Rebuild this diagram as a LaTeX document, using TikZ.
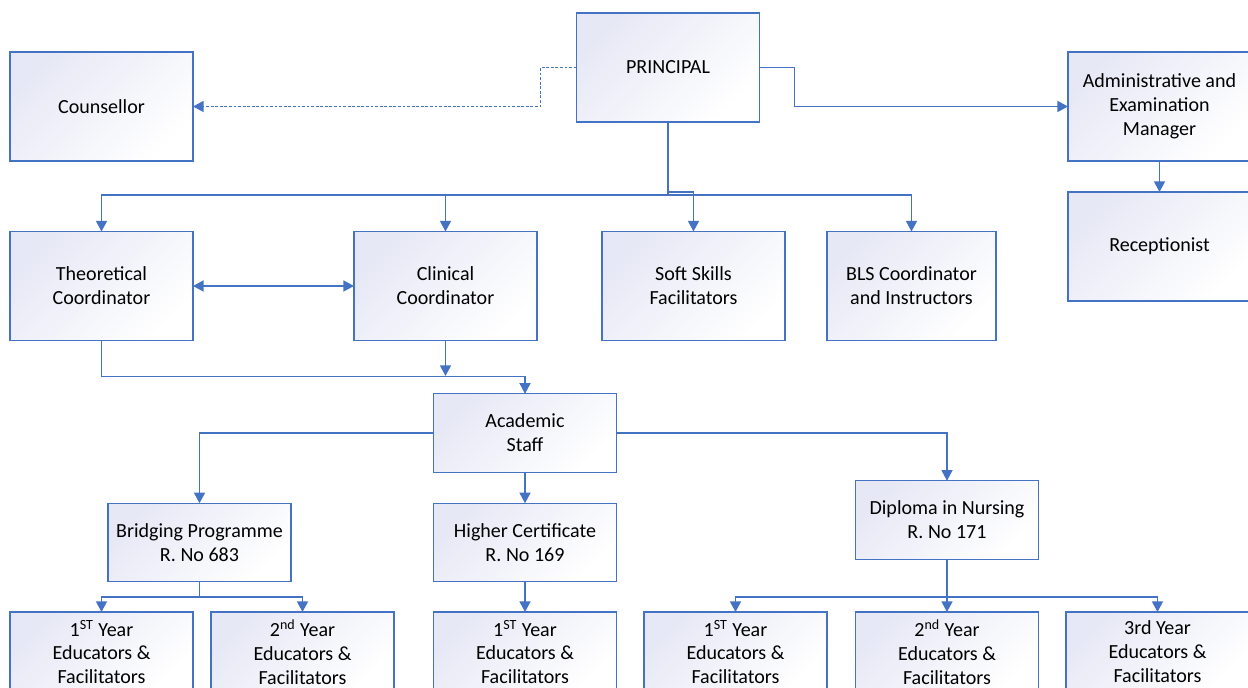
\documentclass[tikz,border=0pt]{standalone}
\usepackage{fontspec}
\setmainfont{Carlito}
\usepackage{tikz}
\usetikzlibrary{arrows.meta}
\usepackage{xcolor}

\definecolor{orgblue}{RGB}{68,114,196}
\definecolor{lavender}{RGB}{230,232,245}

\begin{document}
\begin{tikzpicture}[x=0.02cm, y=-0.02cm, >={Triangle[length=6pt,width=6.2pt]},
  box/.style={draw=orgblue, line width=0.75pt, top color=lavender, bottom color=white,
    shading angle=45, minimum width=3.66cm, minimum height=2.18cm,
    inner sep=0pt, outer sep=0pt, align=center,
    font=\fontsize{11.4pt}{13.6pt}\selectfont},
  flatbox/.style={box, minimum height=1.57cm},
  yearbox/.style={box, minimum height=1.6cm},
  link/.style={draw=orgblue, line width=0.9pt, ->},
  dotlink/.style={link, dash pattern=on 1.6pt off 1pt}]

\useasboundingbox (0,0) rectangle (1248,688);
\clip (0,0) rectangle (1248,688);

%top level
\node[box] (princ) at (668,67.5) {PRINCIPAL};
\node[box] (couns) at (101.5,106.5) {Counsellor};
\node[box] (admin) at (1159.5,106.5) {Administrative and\\Examination\\Manager};
\node[box] (recep) at (1159.5,246.5) {Receptionist};

%coordinators
\node[box] (theo) at (101.5,286) {Theoretical\\Coordinator};
\node[box] (clin) at (445.5,286) {Clinical\\Coordinator};
\node[box] (soft) at (693.5,286) {Soft Skills\\Facilitators};
\node[box, minimum width=3.38cm] (bls) at (911.5,286) {BLS Coordinator\\and Instructors};

\node[flatbox] (acad) at (525,433) {Academic\\Staff};

%programmes
\node[flatbox] (bridge) at (199.5,542.5) {Bridging Programme\\R. No 683};
\node[flatbox] (higher) at (525,542.5) {Higher Certificate\\R. No 169};
\node[flatbox] (dip) at (947,520) {Diploma in Nursing\\R. No 171};

%years
\node[yearbox] (bone) at (101.5,652) {1\textsuperscript{ST} Year\\Educators \&\\Facilitators};
\node[yearbox] (btwo) at (302.5,652) {2\textsuperscript{nd} Year\\Educators \&\\Facilitators};
\node[yearbox] (hone) at (525,652) {1\textsuperscript{ST} Year\\Educators \&\\Facilitators};
\node[yearbox] (done) at (735.5,652) {1\textsuperscript{ST} Year\\Educators \&\\Facilitators};
\node[yearbox] (dtwo) at (947,652) {2\textsuperscript{nd} Year\\Educators \&\\Facilitators};
\node[yearbox] (dthree) at (1157.5,652) {3rd Year\\Educators \&\\Facilitators};

\coordinate (join) at (445.5,376);

\draw[dotlink] (princ.west) -- ++(-36,0) |- (couns.east);
\draw[link] (princ.east) -- ++(35,0) |- (admin.west);
\draw[link] (admin.south) -- (recep.north);

\draw[link] (princ.south) -- ++(0,73) -| (theo.north);
\draw[link] (princ.south) -- ++(0,73) -| (clin.north);
\draw[link] (princ.south) -- ++(0,70) -| (soft.north);
\draw[link] (princ.south) -- ++(0,73) -| (bls.north);

\draw[link, <->] (theo.east) -- (clin.west);
\draw[link] (theo.south) -- ++(0,36) -| (acad.north);
\draw[link] (clin.south) -- (join);

\draw[link] (acad.west) -| (bridge.north);
\draw[link] (acad.south) -- (higher.north);
\draw[link] (acad.east) -| (dip.north);

\draw[link] (bridge.south) -- ++(0,15) -| (bone.north);
\draw[link] (bridge.south) -- ++(0,15) -| (btwo.north);
\draw[link] (higher.south) -- (hone.north);
\draw[link] (dip.south) -- ++(0,38) -| (done.north);
\draw[link] (dip.south) -- (dtwo.north);
\draw[link] (dip.south) -- ++(0,38) -| (dthree.north);

\end{tikzpicture}
\end{document}
